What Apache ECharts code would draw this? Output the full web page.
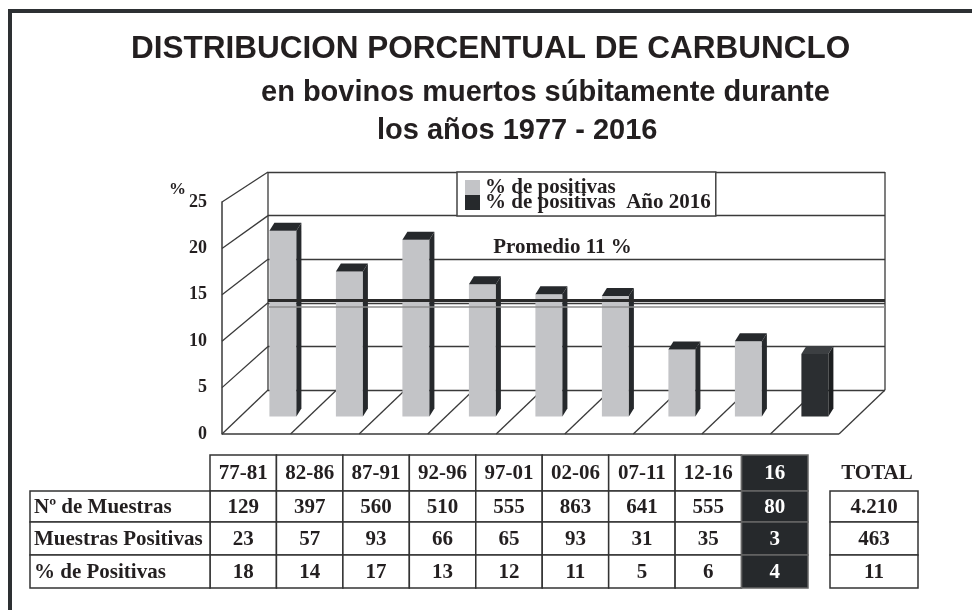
<!DOCTYPE html>
<html><head><meta charset="utf-8">
<script src="https://cdn.jsdelivr.net/npm/echarts@6/dist/echarts.min.js"></script>
<style>html,body{margin:0;padding:0;background:#fff}#c{width:972px;height:610px}</style>
</head><body><div id="c"></div>
<script>
// ---------- data ----------
const periods = ['77-81','82-86','87-91','92-96','97-01','02-06','07-11','12-16','16'];
const chartPct = [20.5, 16.0, 19.5, 14.6, 13.5, 13.3, 7.4, 8.3, '-'];
const chartPct2016 = ['-','-','-','-','-','-','-','-', 6.9];
const promedioLine = 10.3;
const promedioLine2 = 9.6;
const promedioLabel = 'Promedio 11 %';
const yMin = 0, yMax = 25, yStep = 5;
const rowLabels = ['N\u00BA de Muestras', 'Muestras Positivas', '% de Positivas'];
const nMuestras = [129, 397, 560, 510, 555, 863, 641, 555, 80];
const nPositivas = [23, 57, 93, 66, 65, 93, 31, 35, 3];
const pctPositivas = [18, 14, 17, 13, 12, 11, 5, 6, 4];
const totals = ['4.210', '463', '11'];
const seriesNames = ['% de positivas', '% de positivas  A\u00F1o 2016'];
const titleLines = ['DISTRIBUCION PORCENTUAL DE CARBUNCLO', 'en bovinos muertos s\u00FAbitamente durante', 'los a\u00F1os 1977 - 2016'];

// ---------- style / geometry ----------
const DX = -46, DY = 44, PERSP = 0.064, BAR_D = 0.6, BAR_W = 27, SDX = 5, SDY = -8, BAR_SHIFT = 0, BAR_SPREAD = 0.97;
const INK = '#231f20', LINE = '#3a3a3a';
const SERIF = '"Liberation Serif", "Times New Roman", serif';

function projFactory(api) {
  const y0 = api.coord([0, 0])[1];
  const band = api.size([1, 0])[0];
  const c0 = api.coord([0, 0])[0];
  const n = periods.length;
  return {
    band: band,
    mid: c0 - band / 2 + n * band / 2,
    bx: k => c0 - band / 2 + k * band,
    p: (xb, v, d) => {
      const yb = api.coord([0, v])[1];
      return [xb + DX * d, y0 + DY * d - (y0 - yb) * (1 + PERSP * d)];
    }
  };
}
function ln(a, b, w) {
  return { type: 'line', shape: { x1: a[0], y1: a[1], x2: b[0], y2: b[1] }, style: { stroke: LINE, lineWidth: w || 1.3 } };
}

function wallsRender(params, api) {
  const P = projFactory(api);
  const n = periods.length;
  const L = P.bx(0), R = P.bx(n);
  const ch = [];
  for (let v = yMin; v <= yMax; v += yStep) ch.push(ln(P.p(L, v, 0), P.p(L, v, 1)));
  ch.push(ln(P.p(L, yMin, 0), P.p(L, yMax, 0)));
  ch.push(ln(P.p(R, yMin, 0), P.p(R, yMax, 0)));
  for (let k = 1; k <= n; k++) ch.push(ln(P.p(P.bx(k), 0, 0), P.p(P.bx(k), 0, 1)));
  ch.push(ln(P.p(L, 0, 1), P.p(R, 0, 1), 1.6));
  return { type: 'group', children: ch };
}

function barRenderFactory(front, side, top) {
  return function (params, api) {
    const i = api.value(0), v = api.value(1);
    const P = projFactory(api);
    const xraw = api.coord([i, 0])[0];
    const xb = P.mid + (xraw - P.mid) * BAR_SPREAD;
    const base = P.p(xb, 0, BAR_D), tp = P.p(xb, v, BAR_D);
    const xc = base[0] + BAR_SHIFT;
    const xl = xc - BAR_W / 2, xr = xc + BAR_W / 2, yb = base[1], yt = tp[1];
    return { type: 'group', children: [
      { type: 'rect', shape: { x: xl, y: yt, width: BAR_W, height: yb - yt }, style: { fill: front } },
      { type: 'polygon', shape: { points: [[xr, yt], [xr + SDX, yt + SDY], [xr + SDX, yb + SDY], [xr, yb]] }, style: { fill: side } },
      { type: 'polygon', shape: { points: [[xl, yt], [xl + SDX, yt + SDY], [xr + SDX, yt + SDY], [xr, yt]] }, style: { fill: top } }
    ]};
  };
}

// ---------- table (graphic) ----------
const TB = { x0: 210, x1: 808, lx: 30, rows: [455, 491, 522, 555, 588], tx: 830, tw: 88 };
const FONT = 'bold 21px ' + SERIF;
const DARK = '#26292c';
const graphics = [];
function cell(x, y, w, h, fill) {
  graphics.push({ type: 'rect', shape: { x: x, y: y, width: w, height: h }, style: { fill: fill || '#fff', stroke: fill ? '#666' : '#333', lineWidth: 1.5 }, z: 10 });
}
function txt(x, y, s, color, align) {
  graphics.push({ type: 'text', x: x, y: y, style: { text: String(s), font: FONT, fill: color || INK, align: align || 'center', verticalAlign: 'middle' }, z: 11 });
}
const nc = periods.length, cw = (TB.x1 - TB.x0) / nc;
const rowsData = [nMuestras, nPositivas, pctPositivas];
periods.forEach((p, c) => {
  const x = TB.x0 + c * cw, dark = c === nc - 1;
  cell(x, TB.rows[0], cw, TB.rows[1] - TB.rows[0], dark ? DARK : null);
  txt(x + cw / 2, (TB.rows[0] + TB.rows[1]) / 2 + 1, p, dark ? '#fff' : INK);
  rowsData.forEach((arr, r) => {
    const y = TB.rows[r + 1], h = TB.rows[r + 2] - y;
    cell(x, y, cw, h, dark ? DARK : null);
    txt(x + cw / 2, y + h / 2 + 1, arr[c], dark ? '#fff' : INK);
  });
});
rowLabels.forEach((s, r) => {
  const y = TB.rows[r + 1], h = TB.rows[r + 2] - y;
  cell(TB.lx, y, TB.x0 - TB.lx, h);
  txt(TB.lx + 4, y + h / 2 + 1, s, INK, 'left');
  cell(TB.tx, y, TB.tw, h);
  txt(TB.tx + TB.tw / 2, y + h / 2 + 1, totals[r]);
});
txt(TB.tx + TB.tw / 2 + 3, (TB.rows[0] + TB.rows[1]) / 2 + 1, 'TOTAL');
// outer frame
graphics.push({ type: 'line', shape: { x1: 8, y1: 11, x2: 972, y2: 11 }, style: { stroke: '#2d3033', lineWidth: 4 }, z: 12 });
graphics.push({ type: 'line', shape: { x1: 10, y1: 9, x2: 10, y2: 610 }, style: { stroke: '#2d3033', lineWidth: 4 }, z: 12 });

// ---------- chart ----------
const chart = echarts.init(document.getElementById('c'), null, { renderer: 'canvas' });
const titleStyle = (size) => ({ fontFamily: '"Liberation Sans", Arial, sans-serif', fontWeight: 'bold', fontSize: size, color: INK });
chart.setOption({
  animation: false,
  backgroundColor: '#fff',
  title: [
    { text: titleLines[0], left: 126, top: 28, textStyle: titleStyle(31.5) },
    { text: titleLines[1], left: 256, top: 73, textStyle: titleStyle(29) },
    { text: titleLines[2], left: 372, top: 111, textStyle: titleStyle(29) }
  ],
  legend: {
    data: seriesNames, orient: 'vertical', left: 457, top: 172,
    itemWidth: 15, itemHeight: 15, itemGap: -6, icon: 'rect',
    padding: [5, 5, 3, 8], borderColor: '#444', borderWidth: 1.5, backgroundColor: '#fff',
    textStyle: { fontFamily: SERIF, fontWeight: 'bold', fontSize: 21, color: INK, lineHeight: 15, height: 15 }
  },
  grid: [
    { left: 268, top: 172, width: 617, height: 218 },
    { left: 222, top: 202, width: 618, height: 232 }
  ],
  xAxis: [
    { type: 'category', data: periods, gridIndex: 0, show: false },
    { type: 'value', gridIndex: 1, show: false }
  ],
  yAxis: [
    { type: 'value', gridIndex: 0, min: yMin, max: yMax, interval: yStep,
      axisLine: { show: false }, axisTick: { show: false }, axisLabel: { show: false },
      splitLine: { show: true, lineStyle: { color: LINE, width: 1.3 } } },
    { type: 'value', gridIndex: 1, min: yMin, max: yMax, interval: yStep,
      axisLine: { show: true, lineStyle: { color: LINE, width: 1.5 } }, axisTick: { show: false },
      splitLine: { show: false },
      axisLabel: { fontFamily: SERIF, fontWeight: 'bold', fontSize: 18, color: INK, margin: 15, padding: [8, 0, 0, 0] },
      name: '%', nameLocation: 'end', nameGap: 12, nameMoveOverlap: false,
      nameTextStyle: { fontFamily: SERIF, fontWeight: 'bold', fontSize: 17, color: INK, align: 'right', verticalAlign: 'middle', padding: [0, 36, 0, 0] } }
  ],
  series: [
    { type: 'custom', name: 'walls', xAxisIndex: 0, yAxisIndex: 0, z: 1, silent: true,
      data: [[0, 0]], renderItem: wallsRender },
    { type: 'custom', name: seriesNames[0], xAxisIndex: 0, yAxisIndex: 0, z: 3,
      itemStyle: { color: '#c3c4c7' },
      encode: { x: 0, y: 1 },
      data: chartPct.map((v, i) => [i, v]).filter(d => d[1] !== '-'),
      renderItem: barRenderFactory('#c3c4c7', '#26292c', '#26292c'),
      markLine: { silent: true, symbol: 'none', animation: false, z: 6,
        data: [
          { yAxis: promedioLine, lineStyle: { color: '#2a2a2a', width: 3, type: 'solid' },
            label: { show: true, formatter: promedioLabel, position: 'middle', distance: 42, offset: [-14, 0],
              fontFamily: SERIF, fontWeight: 'bold', fontSize: 21, color: INK } },
          { yAxis: promedioLine2, lineStyle: { color: '#8c8c8c', width: 1.5, type: 'solid' }, label: { show: false } }
        ] } },
    { type: 'custom', name: seriesNames[1], xAxisIndex: 0, yAxisIndex: 0, z: 3,
      itemStyle: { color: '#26292c' },
      encode: { x: 0, y: 1 },
      data: chartPct2016.map((v, i) => [i, v]).filter(d => d[1] !== '-'),
      renderItem: barRenderFactory('#2b2e31', '#1c1e20', '#3c3f42') }
  ],
  graphic: graphics
});
</script></body></html>
